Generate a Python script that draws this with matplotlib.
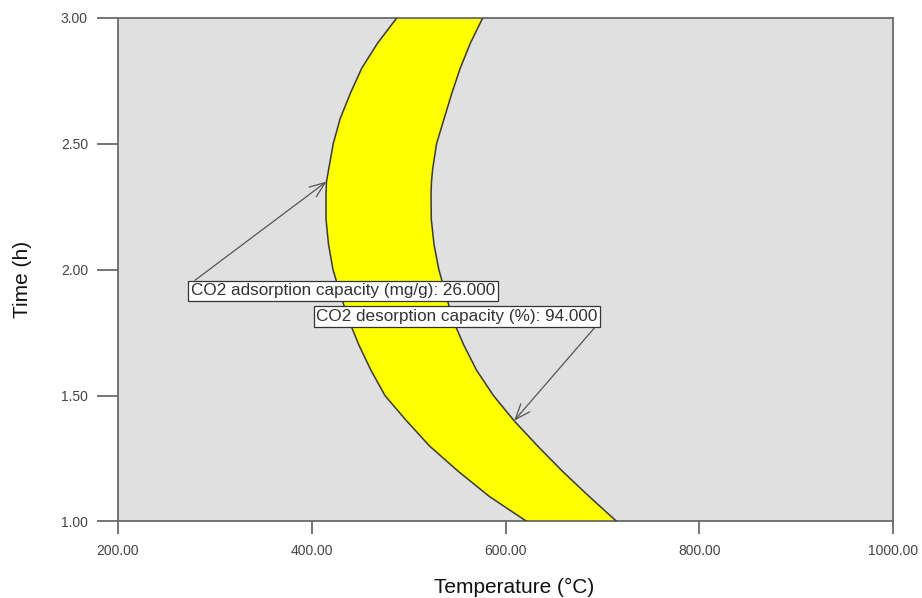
import matplotlib
matplotlib.use("Agg")
import matplotlib.pyplot as plt

plt.rcParams['font.family'] = ['Liberation Sans', 'DejaVu Sans']

# contour read-outs on a shared time grid (h)
time_h = [1.0, 1.1, 1.2, 1.3, 1.4, 1.5, 1.6, 1.7, 1.8, 1.9, 2.0,
          2.1, 2.2, 2.3, 2.35, 2.4, 2.5, 2.6, 2.7, 2.8, 2.9, 3.0]
# temperature (C) where CO2 adsorption capacity = 26 mg/g
adsorption_T = [621.8, 583.0, 550.9, 521.5, 497.8, 475.6, 461.2, 448.8, 438.2, 429.8, 422.0,
                417.4, 414.8, 414.8, 415.3, 417.6, 422.2, 429.4, 439.8, 451.6, 468.0, 487.7]
# temperature (C) where CO2 desorption capacity = 94 %
desorption_T = [714.6, 686.0, 658.5, 633.0, 608.8, 587.5, 570.2, 557.0, 545.7, 538.5, 531.2,
                526.2, 523.4, 523.1, 523.6, 524.8, 528.8, 536.6, 544.5, 553.2, 563.7, 576.4]

adsorption_label = "CO2 adsorption capacity (mg/g): 26.000"
desorption_label = "CO2 desorption capacity (%): 94.000"

x_ticks = [200, 400, 600, 800, 1000]
y_ticks = [1.0, 1.5, 2.0, 2.5, 3.0]

fig = plt.figure(figsize=(9.22, 5.98), dpi=100)
ax = fig.add_axes([0.1277, 0.128, 0.8413, 0.842])
ax.set_facecolor('#e0e0e0')

ax.fill_betweenx(time_h, adsorption_T, desorption_T, color='#ffff00', lw=0, zorder=2)
for temps in (adsorption_T, desorption_T):
    ax.plot(temps, time_h, color='#3a3a3a', lw=1.1, solid_joinstyle='round', zorder=3)

ax.set_xlim(200, 1000)
ax.set_ylim(1, 3)
ax.set_xticks(x_ticks)
ax.set_yticks(y_ticks)
ax.set_xticklabels([f"{v:.2f}" for v in x_ticks])
ax.set_yticklabels([f"{v:.2f}" for v in y_ticks])

for s in ax.spines.values():
    s.set_color('#6a6a6a')
    s.set_linewidth(1.3)
ax.tick_params(axis='x', length=9, width=1.3, color='#6a6a6a', pad=7,
               labelsize=10, labelcolor='#444444')
ax.tick_params(axis='y', length=15, width=1.3, color='#6a6a6a', pad=6.5,
               labelsize=10, labelcolor='#444444')

ax.set_xlabel("Temperature (\u00b0C)", fontsize=15, color='#111111')
ax.set_ylabel("Time (h)", fontsize=15, color='#111111')
ax.xaxis.set_label_coords(0.511, -0.132)
ax.yaxis.set_label_coords(-0.123, 0.48)
ax.xaxis.label.set_va('center')
ax.yaxis.label.set_va('center')

box = dict(boxstyle='square,pad=0.15', fc='white', ec='#333333', lw=0.9)
arrow = dict(arrowstyle='->,head_length=0.9,head_width=0.35', color='#555555', lw=0.9,
             shrinkA=0, shrinkB=0)

i_ads = time_h.index(2.35)
ax.annotate(adsorption_label, xy=(adsorption_T[i_ads], time_h[i_ads]),
            xytext=(432.3, 1.916), ha='center', va='center', fontsize=12.3,
            color='#333333', bbox=box, arrowprops=dict(arrow, relpos=(0, 1)), zorder=5)

i_des = time_h.index(1.4)
ax.annotate(desorption_label, xy=(desorption_T[i_des], time_h[i_des]),
            xytext=(550.0, 1.814), ha='center', va='center', fontsize=12.3,
            color='#333333', bbox=box, arrowprops=dict(arrow, relpos=(1, 0)), zorder=5)

fig.savefig('out.png', dpi=100)
